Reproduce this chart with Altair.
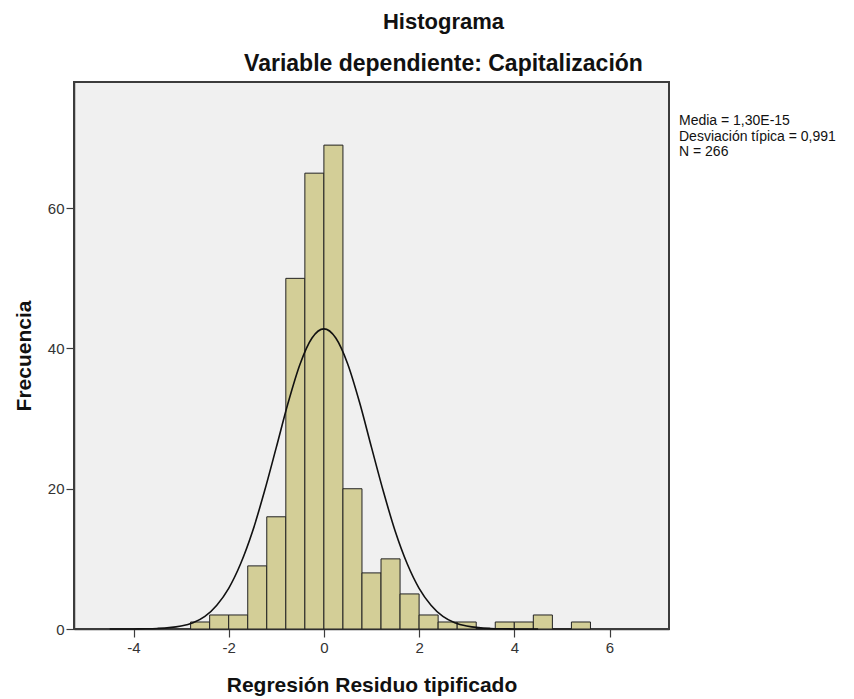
import altair as alt
import pandas as pd

# Histogram bins (standardized residual), width 0.4
bin_start = [-2.8, -2.4, -2.0, -1.6, -1.2, -0.8, -0.4, 0.0, 0.4, 0.8, 1.2,
             1.6, 2.0, 2.4, 2.8, 3.2, 3.6, 4.0, 4.4, 4.8, 5.2]
bin_end = [-2.4, -2.0, -1.6, -1.2, -0.8, -0.4, 0.0, 0.4, 0.8, 1.2, 1.6,
           2.0, 2.4, 2.8, 3.2, 3.6, 4.0, 4.4, 4.8, 5.2, 5.6]
counts = [1, 2, 2, 9, 16, 50, 65, 69, 20, 8, 10, 5, 2, 1, 1, 0, 1, 1, 2, 0, 1]

# Normal curve, values
curve_x = [-4.5, -4.25, -4.0, -3.75, -3.5, -3.25, -3.0, -2.75, -2.5, -2.25, -2.0,
           -1.75, -1.5, -1.25, -1.0, -0.75, -0.5, -0.25, 0.0, 0.25, 0.5, 0.75,
           1.0, 1.25, 1.5, 1.75, 2.0, 2.25, 2.5, 2.75, 3.0, 3.25, 3.5, 3.75,
           4.0, 4.25, 4.5]
curve_y = [0.0, 0.0, 0.01, 0.03, 0.08, 0.19, 0.43, 0.9, 1.8, 3.4, 5.8,
           9.3, 13.9, 19.6, 25.9, 32.3, 37.8, 41.5, 42.8, 41.5, 37.8, 32.3,
           25.9, 19.6, 13.9, 9.3, 5.8, 3.4, 1.8, 0.9, 0.43, 0.19, 0.08, 0.03,
           0.01, 0.0, 0.0]

stats_lines = ["Media = 1,30E-15", "Desviación típica = 0,991", "N = 266"]
stats_y = [39, 54.5, 70]

x_ticks = [-4, -2, 0, 2, 4, 6]
y_ticks = [0, 20, 40, 60]

FONT = "Liberation Sans"

bars_df = pd.DataFrame({"start": bin_start, "end": bin_end, "count": counts})
curve_df = pd.DataFrame({"x": curve_x, "y": curve_y})
stats_df = pd.DataFrame({"t": stats_lines, "py": stats_y})

xscale = alt.Scale(domain=[-5.25, 7.25], nice=False, zero=False)
yscale = alt.Scale(domain=[0, 78], nice=False)

xaxis = alt.Axis(values=x_ticks, title="Regresión Residuo tipificado", grid=False,
                 labelExpr="'' + datum.value",
                 tickSize=8, labelPadding=3, labelFontSize=15, labelColor="#333333",
                 titleFontSize=21, titleFont=FONT, labelFont=FONT, titleFontWeight="bold",
                 titleColor="#111111", titlePadding=19, domainColor="#3c3c3c",
                 tickColor="#3c3c3c", domainWidth=1.5, tickWidth=1.2, labelFlush=False)
yaxis = alt.Axis(values=y_ticks, title="Frecuencia", grid=False,
                 tickSize=8, labelPadding=2, labelFontSize=15, labelColor="#333333",
                 titleFontSize=21, titleFont=FONT, labelFont=FONT, titleFontWeight="bold",
                 titleColor="#111111", titlePadding=13, domainColor="#3c3c3c",
                 tickColor="#3c3c3c", domainWidth=1.5, tickWidth=1.2)

bars = alt.Chart(bars_df).mark_bar(
    fill="#d3ce97", stroke="#222222", strokeWidth=1, binSpacing=0
).encode(
    x=alt.X("start:Q", scale=xscale, axis=xaxis),
    x2="end:Q",
    y=alt.Y("count:Q", scale=yscale, axis=yaxis),
    y2=alt.datum(0),
)

curve = alt.Chart(curve_df).mark_line(
    color="#111111", strokeWidth=1.6, interpolate="monotone"
).encode(
    x=alt.X("x:Q", scale=xscale),
    y=alt.Y("y:Q", scale=yscale),
)

stats = alt.Chart(stats_df).mark_text(
    align="left", baseline="middle", font=FONT, fontSize=14, color="#111111"
).encode(
    x=alt.value(605),
    y=alt.Y("py:Q", scale=None),
    text="t:N",
)

chart = alt.layer(bars, curve, stats).properties(
    width=595,
    height=547,
    background="white",
    title=alt.TitleParams(
        text="Histograma",
        subtitle="Variable dependiente: Capitalización",
        anchor="middle",
        dx=72,
        font=FONT,
        fontSize=22,
        fontWeight="bold",
        color="#111111",
        subtitleFont=FONT,
        subtitleFontSize=23,
        subtitleFontWeight="bold",
        subtitleColor="#111111",
        subtitlePadding=19,
        offset=5,
    ),
    autosize=alt.AutoSizeParams(type="none"),
    padding={"left": 66, "top": 74, "right": 170, "bottom": 72},
).configure_view(
    fill="#f0f0f0", stroke="#3c3c3c", strokeWidth=2
)

chart.save("out.html", embed_options={"renderer": "svg", "actions": False})
